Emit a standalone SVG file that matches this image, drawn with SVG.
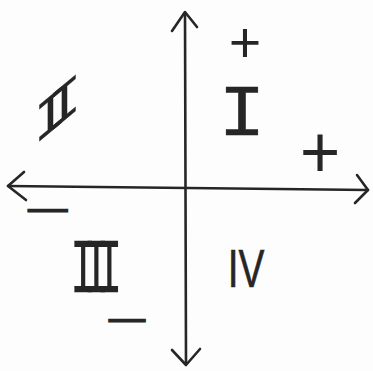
<svg xmlns="http://www.w3.org/2000/svg" width="373" height="371" viewBox="0 0 373 371">
<style>
.ax{fill:none;stroke:#262626;stroke-width:2.6;stroke-linecap:round;stroke-linejoin:round}
.num{font-family:"Liberation Mono",monospace;fill:#262626;stroke:#262626;stroke-width:0.3;text-anchor:middle}
.sans{font-family:"Liberation Sans",sans-serif;fill:#262626;stroke:#262626;stroke-width:0.6;text-anchor:middle}
.pl{font-family:Lato,"Liberation Sans",sans-serif;font-weight:400;fill:#262626;text-anchor:middle}
</style>
<rect width="373" height="371" fill="#fdfdfd"/>
<g id="connectors">
<path class="ax" d="M185,13 L186,362"/>
<path class="ax" d="M172,31 L185,12 L197,27"/>
<path class="ax" d="M172,350 L186,365 L200,349"/>
<path class="ax" d="M8,186 L368,190"/>
<path class="ax" d="M24,172 L8,186 L26,200"/>
<path class="ax" d="M357,175 L368,190 L355,203"/>
</g>
<g id="q1"><text class="num" transform="translate(242,135) scale(1.1,1)" font-size="72">I</text></g>
<g id="q2"><text class="num" transform="translate(48,134) skewY(-40)" font-size="55" letter-spacing="-19">II</text></g>
<g id="q3"><text class="num" transform="translate(90,292) scale(0.55,1)" font-size="78" letter-spacing="-23">III</text></g>
<g id="q4"><text class="sans" transform="translate(246,287) scale(0.72,1)" font-size="54">IV</text></g>
<g id="plus-y"><text class="pl" x="245" y="62" font-size="56">+</text></g>
<g id="plus-x"><text class="pl" transform="translate(320,177) scale(1,1.05)" font-size="70">+</text></g>
<g id="minus-x"><text class="sans" transform="translate(49,214) scale(5.2,1)" font-size="10" style="stroke-width:3">−</text></g>
<g id="minus-y"><text class="sans" transform="translate(128,324) scale(4.8,1)" font-size="10" style="stroke-width:3">−</text></g>
</svg>
